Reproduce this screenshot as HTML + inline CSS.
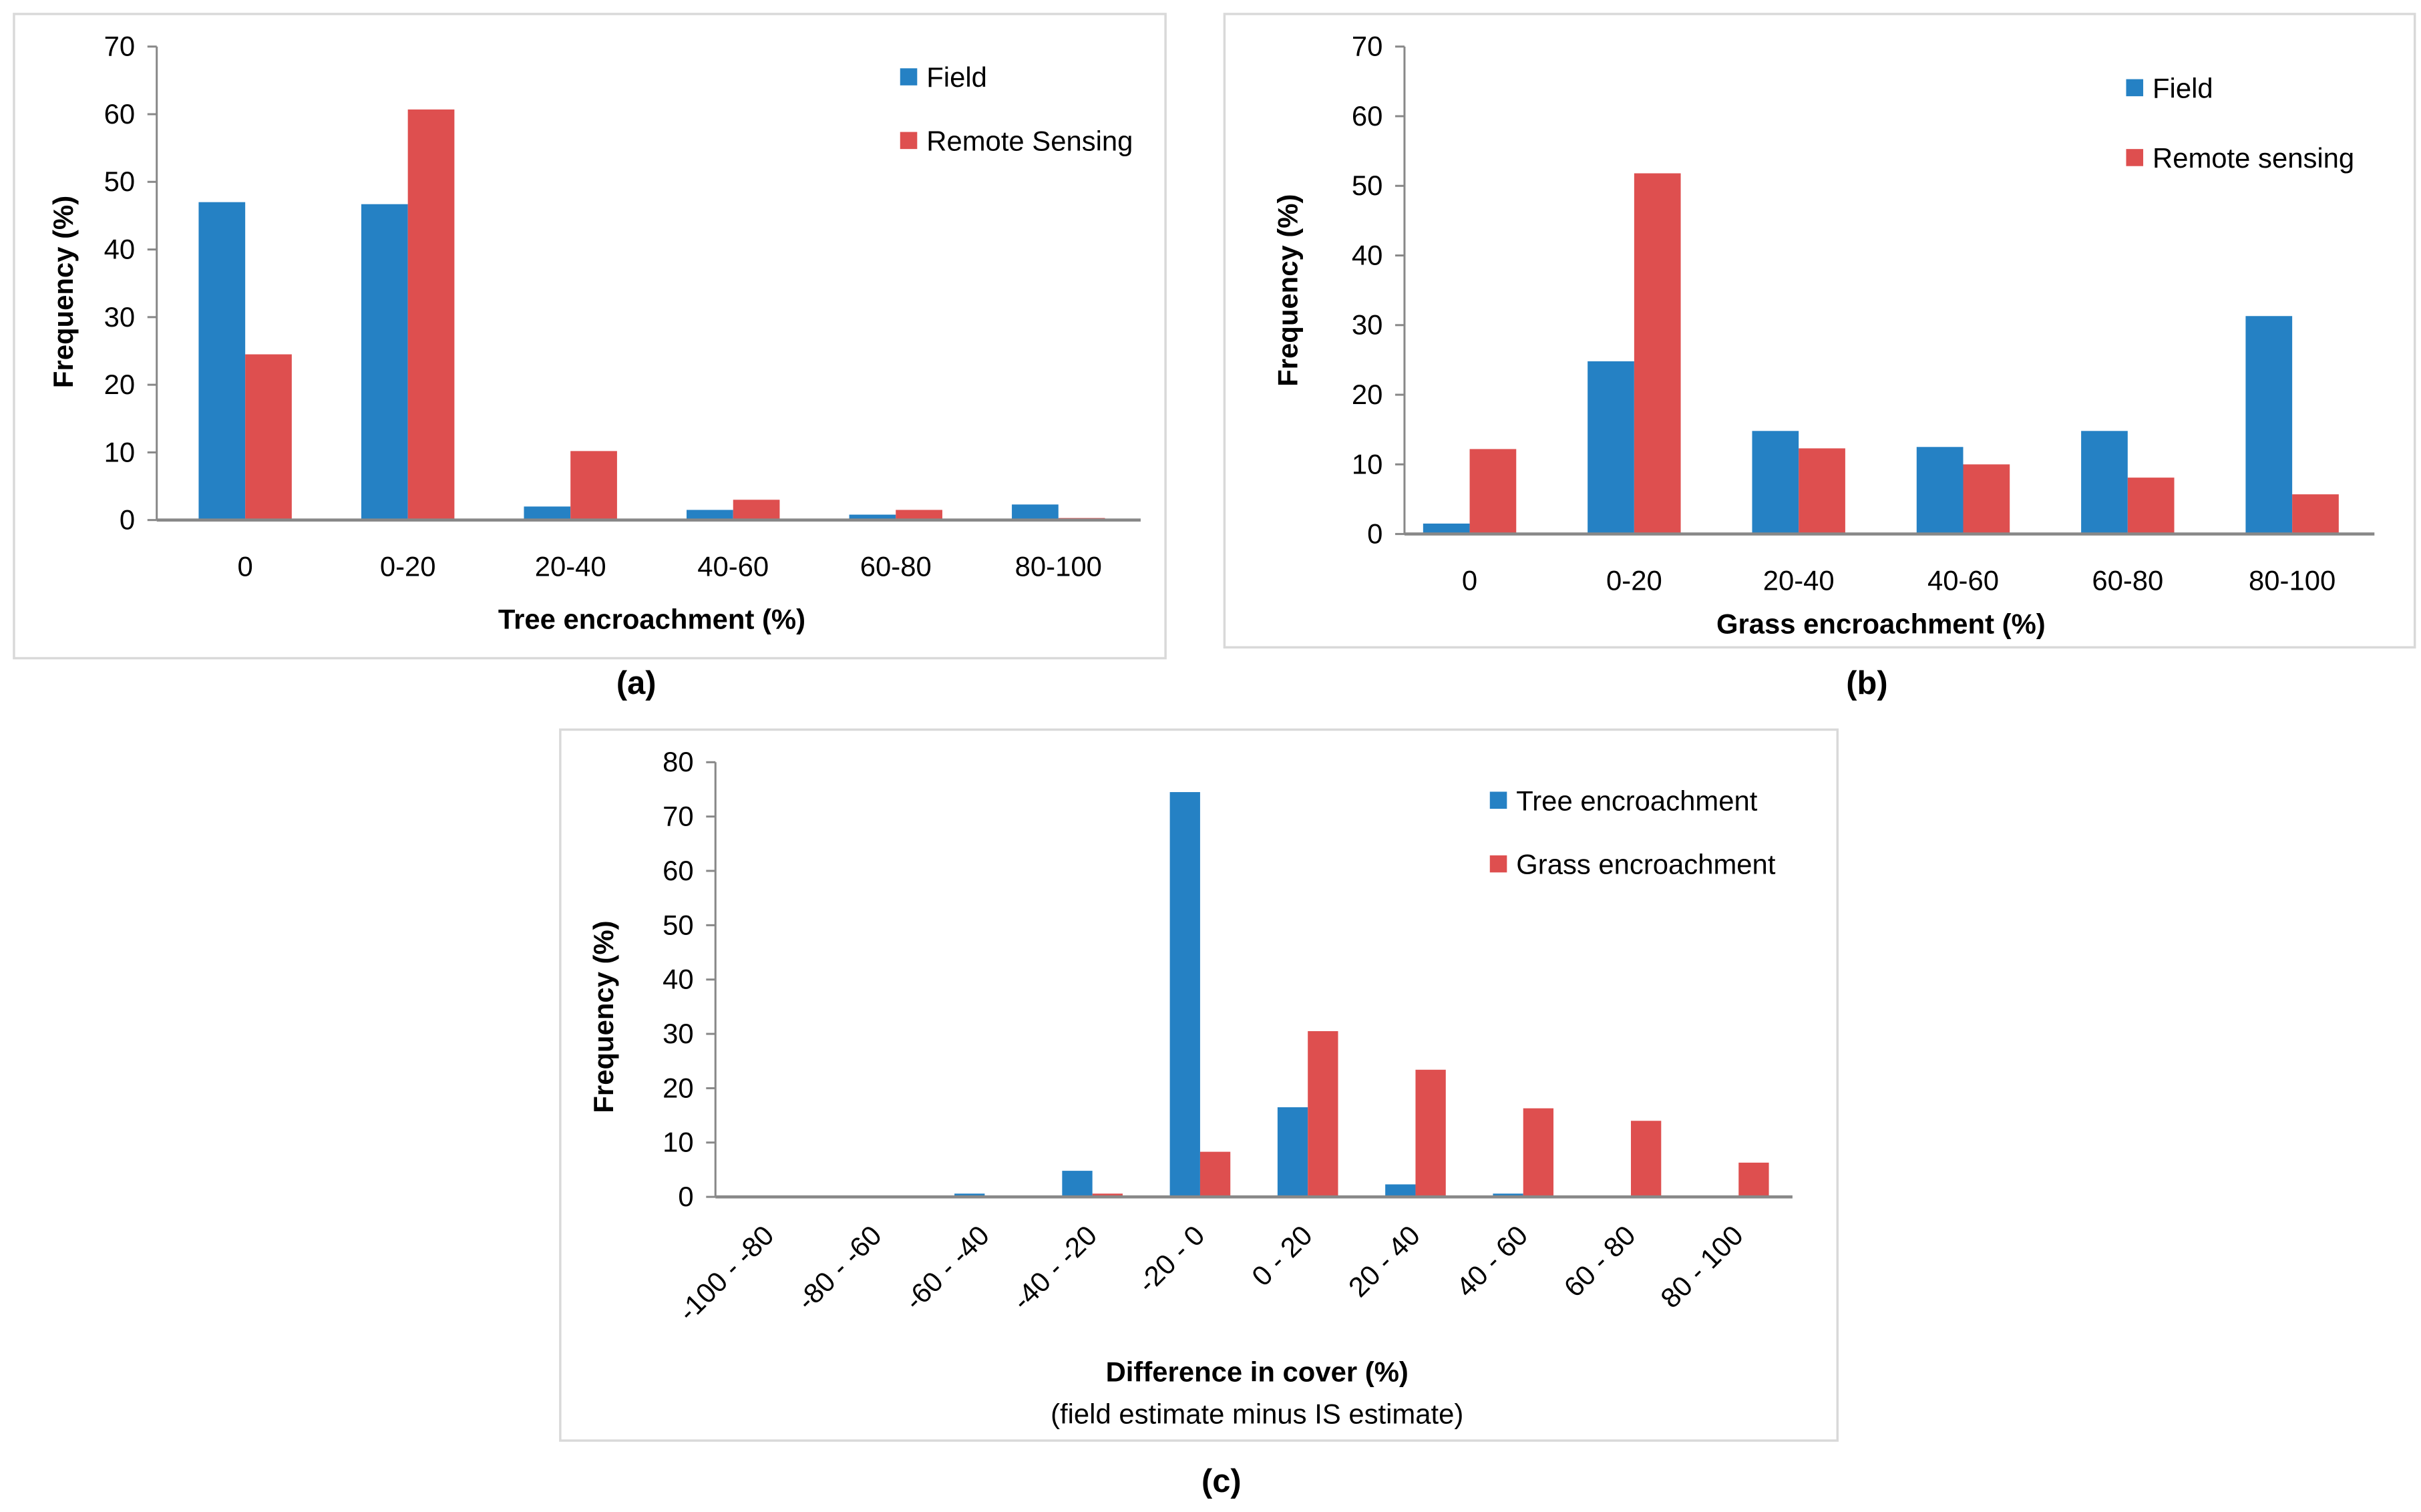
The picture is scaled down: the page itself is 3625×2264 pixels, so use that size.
<!DOCTYPE html>
<html><head><meta charset="utf-8">
<style>
html,body{margin:0;padding:0;background:#fff;}
svg{display:block;}
text{font-family:"Liberation Sans",sans-serif;fill:#000;}
</style></head>
<body>
<svg id="fig" width="3625" height="2264" viewBox="0 0 1560 974" preserveAspectRatio="none" xmlns="http://www.w3.org/2000/svg"></svg>
<script>
// Panel (a) data
const catsA = ["0","0-20","20-40","40-60","60-80","80-100"];
const fieldA = [47, 46.7, 2, 1.5, 0.8, 2.3];
const rsA = [24.5, 60.7, 10.2, 3, 1.5, 0.3];
const ticksA = [0,10,20,30,40,50,60,70];
// Panel (b) data
const catsB = ["0","0-20","20-40","40-60","60-80","80-100"];
const fieldB = [1.5, 24.8, 14.8, 12.5, 14.8, 31.3];
const rsB = [12.2, 51.8, 12.3, 10, 8.1, 5.7];
const ticksB = [0,10,20,30,40,50,60,70];
// Panel (c) data
const catsC = ["-100 - -80","-80 - -60","-60 - -40","-40 - -20","-20 - 0","0 - 20","20 - 40","40 - 60","60 - 80","80 - 100"];
const treeC = [0, 0, 0.6, 4.8, 74.5, 16.5, 2.3, 0.6, 0, 0];
const grassC = [0, 0, 0, 0.6, 8.3, 30.5, 23.4, 16.3, 14, 6.3];
const ticksC = [0,10,20,30,40,50,60,70,80];

const NS = "http://www.w3.org/2000/svg";
const svg = document.getElementById('fig');
const BLUE = "#2581c4", RED = "#de4f4f";

function mk(tag, attrs, parent, txt){
  const e = document.createElementNS(NS, tag);
  for (const k in attrs) e.setAttribute(k, attrs[k]);
  if (txt !== undefined) e.textContent = txt;
  (parent || svg).appendChild(e);
  return e;
}

function panel(cfg){
  const g = mk('g', {});
  
  
  const border = mk('rect', {x:cfg.box[0], y:cfg.box[1], width:cfg.box[2]-cfg.box[0], height:cfg.box[3]-cfg.box[1], fill:'#fff', stroke:'#d9d9d9', 'stroke-width':1.5}, g);
  
  
  const maxV = cfg.ticks[cfg.ticks.length-1];
  const yS = v => cfg.y0 - (cfg.y0 - cfg.yTop) * v / maxV;
  const n = cfg.cats.length;
  const step = (cfg.catEnd - cfg.catStart) / n;
  const xC = i => cfg.catStart + step * (i + 0.5);
  const bw = cfg.bw;
  cfg.series.forEach((s, si) => {
    s.values.forEach((v, i) => {
      if (v <= 0) return;
      const x = si === 0 ? xC(i) - bw : xC(i);
      const r = mk('rect', {x:x, y:yS(v), width:bw, height:cfg.y0 - yS(v), fill:s.color}, g);
      
      
    });
  });
  const ya = mk('line', {x1:cfg.x0, y1:cfg.yTop, x2:cfg.x0, y2:cfg.y0, stroke:'#888', 'stroke-width':1.3}, g);
  
  
  cfg.ticks.forEach(t => {
    mk('line', {x1:cfg.x0-6, y1:yS(t), x2:cfg.x0, y2:yS(t), stroke:'#888', 'stroke-width':1.3}, g);
    const tl = mk('text', {x:cfg.x0-14, y:yS(t)+6, 'text-anchor':'end', 'font-size':18}, g, String(t));
    
    
  });
  const xa = mk('line', {x1:cfg.x0, y1:cfg.y0, x2:cfg.xEnd, y2:cfg.y0, stroke:'#888', 'stroke-width':2}, g);
  
  
  cfg.cats.forEach((c, i) => {
    let t;
    if (cfg.rotate) {
      t = mk('text', {x:xC(i)+4, y:cfg.y0+26, 'text-anchor':'end', 'font-size':18, transform:'rotate(-45 '+(xC(i)+4)+' '+(cfg.y0+26)+')'}, g, c);
    } else {
      t = mk('text', {x:xC(i), y:cfg.labelY, 'text-anchor':'middle', 'font-size':18}, g, c);
    }
    
    
  });
  const xt = mk('text', {x:cfg.xTitle[0], y:cfg.xTitle[1], 'text-anchor':'middle', 'font-size':18, 'font-weight':'bold'}, g, cfg.xTitleText);
  
  
  if (cfg.sub) {
    const st = mk('text', {x:cfg.xTitle[0], y:cfg.xTitle[1]+27, 'text-anchor':'middle', 'font-size':18}, g, cfg.sub);
    
    
  }
  const yt = mk('text', {x:cfg.yTitle[0], y:cfg.yTitle[1], 'text-anchor':'middle', 'font-size':18, 'font-weight':'bold', transform:'rotate(-90 '+cfg.yTitle[0]+' '+cfg.yTitle[1]+')'}, g, 'Frequency (%)');
  
  
  cfg.series.forEach((s, si) => {
    const ly = cfg.legend[1] + si * cfg.legendGap;
    const lg = mk('g', {}, g);
    
    
    mk('rect', {x:cfg.legend[0], y:ly-6, width:11, height:11, fill:s.color}, lg);
    mk('text', {x:cfg.legend[0]+17, y:ly+6, 'font-size':18}, lg, s.label);
  });
  const pl = mk('text', {x:cfg.plabel[0], y:cfg.plabel[1], 'text-anchor':'middle', 'font-size':21, 'font-weight':'bold'}, svg, cfg.plabelText);
  
  
}

panel({name:'chart-a', box:[9,9,751,424], x0:101, xEnd:735, catStart:105.6, catEnd:734.4, y0:335, yTop:30, ticks:ticksA, cats:catsA, bw:30,
  series:[{key:'field', label:'Field', color:BLUE, values:fieldA},{key:'remote-sensing', label:'Remote Sensing', color:RED, values:rsA}],
  labelY:371, xTitle:[420,405], xTitleText:'Tree encroachment (%)', yTitle:[47,188], legend:[580,50], legendGap:41,
  plabel:[410,447], plabelText:'(a)'});

panel({name:'chart-b', box:[789,9,1556,417], x0:905, xEnd:1530, catStart:894, catEnd:1530, y0:344, yTop:30, ticks:ticksB, cats:catsB, bw:30,
  series:[{key:'field', label:'Field', color:BLUE, values:fieldB},{key:'remote-sensing', label:'Remote sensing', color:RED, values:rsB}],
  labelY:380, xTitle:[1212,408], xTitleText:'Grass encroachment (%)', yTitle:[836,187], legend:[1370,57], legendGap:45,
  plabel:[1203,447], plabelText:'(b)'});

panel({name:'chart-c', box:[361,470,1184,928], x0:461, xEnd:1155, catStart:461, catEnd:1155, y0:771, yTop:491, ticks:ticksC, cats:catsC, bw:19.5, rotate:true,
  series:[{key:'tree', label:'Tree encroachment', color:BLUE, values:treeC},{key:'grass', label:'Grass encroachment', color:RED, values:grassC}],
  xTitle:[810,890], xTitleText:'Difference in cover (%)', sub:'(field estimate minus IS estimate)', yTitle:[395,655], legend:[960,516], legendGap:41,
  plabel:[787,961], plabelText:'(c)'});
</script>
</body></html>
